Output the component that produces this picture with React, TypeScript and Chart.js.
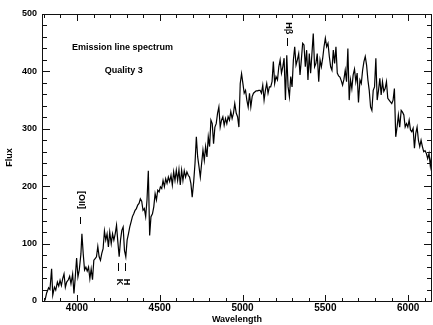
import React, { useEffect, useRef } from "react";
import { Chart, registerables } from "chart.js";
Chart.register(...registerables);

const wavelengths = [
  3807, 3817, 3829, 3837, 3847, 3854, 3864, 3872, 3882, 3890, 3898, 3906, 3914, 3922, 3930, 3938,
  3948, 3956, 3964, 3974, 3982, 3990, 3998, 4006, 4014, 4024, 4030, 4038, 4046, 4054, 4062, 4070,
  4078, 4086, 4094, 4102, 4110, 4118, 4126, 4134, 4142, 4150,
  4158, 4166, 4174, 4182, 4190, 4198, 4207, 4215, 4223, 4231,
  4239, 4247, 4255, 4263, 4271, 4279, 4287, 4295, 4303, 4311,
  4319, 4327, 4335, 4343, 4351, 4359, 4367, 4375, 4383, 4391,
  4399, 4407, 4415, 4423, 4431, 4439, 4447, 4456, 4464, 4472,
  4480, 4488, 4496, 4504, 4512, 4520, 4528, 4536, 4544, 4552,
  4560, 4568, 4576, 4584, 4592, 4600, 4608, 4616, 4624, 4632,
  4640, 4648, 4656, 4664, 4672, 4680, 4688, 4696, 4705, 4713,
  4721, 4729, 4737, 4745, 4753, 4761, 4769, 4777, 4785, 4793,
  4801, 4809, 4817, 4825, 4833, 4841, 4849, 4857, 4865, 4873,
  4881, 4889, 4897, 4905, 4913, 4921, 4929, 4937, 4945, 4953,
  4962, 4970, 4978, 4986, 4994, 5002, 5010, 5018, 5026, 5034,
  5042, 5050, 5058, 5066, 5074, 5082, 5090, 5098, 5106, 5114,
  5122, 5130, 5138, 5146, 5154, 5162, 5170, 5178, 5186, 5194,
  5202, 5211, 5219, 5227, 5235, 5243, 5251, 5259, 5267, 5275,
  5283, 5291, 5299, 5307, 5315, 5323, 5331, 5339, 5347, 5355,
  5363, 5371, 5379, 5387, 5395, 5403, 5411, 5419, 5427, 5435,
  5443, 5451, 5460, 5468, 5476, 5484, 5492, 5500, 5508, 5516,
  5524, 5532, 5540, 5548, 5556, 5564, 5572, 5580, 5588, 5596,
  5604, 5612, 5620, 5628, 5636, 5644, 5652, 5660, 5668, 5676,
  5684, 5692, 5700, 5709, 5717, 5725, 5733, 5741, 5749, 5757,
  5765, 5773, 5781, 5789, 5797, 5805, 5813, 5821, 5829, 5837,
  5845, 5853, 5861, 5869, 5877, 5885, 5893, 5901, 5909, 5917,
  5925, 5933, 5941, 5949, 5958, 5966, 5974, 5982, 5990, 5998,
  6006, 6014, 6022, 6030, 6038, 6046, 6054, 6062, 6070, 6078,
  6086, 6094, 6102, 6110, 6118, 6126, 6134, 6142,
];

const flux = [
  1, 14, 23, 20, 56, 10, 24, 19, 33, 26, 36, 27, 39, 47, 24, 33,
  37, 43, 30, 47, 13, 42, 75, 42, 54, 82, 117, 82, 54, 59, 52, 59,
  39, 56, 37, 71, 74, 77, 95, 77, 71, 83,
  91, 122, 106, 117, 94, 120, 100, 117, 106, 117,
  132, 103, 77, 106, 123, 129, 88, 77, 106, 117,
  129, 138, 147, 152, 158, 161, 167, 170, 178, 174,
  158, 161, 147, 176, 227, 114, 147, 152, 164, 187,
  176, 193, 190, 199, 196, 210, 199, 213, 205, 216,
  208, 219, 202, 225, 210, 228, 210, 229, 202, 228,
  210, 227, 216, 225, 219, 216, 205, 181, 208, 240,
  286, 251, 234, 216, 240, 263, 245, 269, 251, 286,
  269, 315, 309, 274, 303, 309, 327, 338, 303, 315,
  321, 306, 318, 309, 321, 315, 330, 318, 327, 344,
  327, 321, 303, 379, 396, 379, 362, 367, 350, 338,
  362, 338, 356, 362, 364, 366, 366, 367, 367, 362,
  376, 350, 367, 379, 362, 373, 373, 382, 417, 379,
  391, 385, 408, 420, 397, 408, 423, 350, 428, 373,
  356, 391, 373, 420, 443, 411, 420, 431, 394, 420,
  449, 446, 408, 437, 385, 431, 397, 431, 466, 408,
  414, 431, 382, 420, 408, 423, 443, 458, 443, 449,
  426, 408, 402, 437, 414, 443, 397, 392, 390, 384,
  376, 386, 402, 382, 440, 350, 385, 370, 394, 404,
  382, 397, 346, 385, 379, 402, 417, 426, 411, 385,
  367, 338, 332, 367, 373, 423, 350, 367, 388, 359,
  382, 365, 370, 382, 353, 350, 347, 344, 350, 370,
  286, 303, 324, 303, 332, 329, 324, 303, 309, 303,
  315, 298, 295, 301, 266, 292, 303, 280, 269, 280,
  269, 260, 262, 257, 248, 257, 235, 254,
];

const xTickValues = [4000, 4500, 5000, 5500, 6000];
const yTickValues = [0, 100, 200, 300, 400, 500];
const yMinorTicks = [20, 40, 60, 80, 120, 140, 160, 180, 220, 240, 260, 280, 320, 340, 360, 380, 420, 440, 460, 480];

const lineLabels = ["[OII]", "K", "H", "H\u03B2"];
const lineWaves = [4020, 4250, 4293, 5266];
const lineMarkLow = [134, 52, 52, 444];
const lineMarkHigh = [146, 67, 67, 458];
const lineLabelFlux = [176, 33, 33, 475];

const noteTexts = ["Emission line spectrum", "Quality 3"];
const noteWaves = [3970, 4168];
const noteFlux = [441, 401];

const FAMILY = "'Liberation Sans', Arial, sans-serif";
const FONT = "bold 9px " + FAMILY;

const framePlugin = {
  id: "framePlugin",
  afterDraw(chart: any) {
    const ctx = chart.ctx as CanvasRenderingContext2D;
    const xs = chart.scales.x;
    const ys = chart.scales.y;
    const L = Math.round(chart.chartArea.left);
    const R = Math.round(chart.chartArea.right);
    const T = Math.round(chart.chartArea.top);
    const B = Math.round(chart.chartArea.bottom);
    ctx.save();
    ctx.fillStyle = "#111";
    ctx.fillRect(L, T, R - L, 1);
    ctx.fillRect(L, B, R - L, 1);
    ctx.fillRect(L, T, 1, B - T + 1);
    ctx.fillRect(R - 1, T, 1, B - T + 1);
    for (let v = Math.ceil(xs.min / 100) * 100; v <= xs.max; v += 100) {
      const px = Math.round(xs.getPixelForValue(v));
      const len = v % 500 === 0 ? 6 : 3;
      ctx.fillRect(px, B - len, 1, len);
      ctx.fillRect(px, T + 1, 1, len);
    }
    yTickValues.forEach((v) => {
      const py = Math.round(ys.getPixelForValue(v));
      ctx.fillRect(L + 1, py, 7, 1);
      ctx.fillRect(R - 8, py, 7, 1);
    });
    yMinorTicks.forEach((v) => {
      const py = Math.round(ys.getPixelForValue(v));
      ctx.fillRect(L + 1, py, 4, 1);
      ctx.fillRect(R - 5, py, 4, 1);
    });
    ctx.restore();
  },
};

const notesPlugin = {
  id: "notesPlugin",
  afterDraw(chart: any) {
    const ctx = chart.ctx as CanvasRenderingContext2D;
    const xs = chart.scales.x;
    const ys = chart.scales.y;
    const a = chart.chartArea;
    ctx.save();
    ctx.fillStyle = "#000";
    ctx.font = FONT;
    for (let i = 0; i < lineLabels.length; i++) {
      const px = Math.round(xs.getPixelForValue(lineWaves[i]));
      const y1 = Math.round(ys.getPixelForValue(lineMarkHigh[i]));
      const y2 = Math.round(ys.getPixelForValue(lineMarkLow[i]));
      ctx.fillRect(px, y1, 1, y2 - y1);
      ctx.save();
      ctx.translate(px + 1, ys.getPixelForValue(lineLabelFlux[i]));
      ctx.rotate(Math.PI / 2);
      ctx.textAlign = "center";
      ctx.textBaseline = "middle";
      ctx.fillText(lineLabels[i], 0, 0);
      ctx.restore();
    }
    ctx.textAlign = "left";
    ctx.textBaseline = "middle";
    for (let i = 0; i < noteTexts.length; i++) {
      ctx.fillText(noteTexts[i], xs.getPixelForValue(noteWaves[i]), ys.getPixelForValue(noteFlux[i]));
    }
    ctx.textAlign = "center";
    ctx.fillText("Wavelength", (a.left + a.right) / 2, 320);
    ctx.save();
    ctx.translate(10, (a.top + a.bottom) / 2);
    ctx.rotate(-Math.PI / 2);
    ctx.fillText("Flux", 0, 0);
    ctx.restore();
    ctx.restore();
  },
};

export default function App() {
  const ref = useRef<HTMLCanvasElement | null>(null);
  useEffect(() => {
    if (!ref.current) return;
    const points = wavelengths.map((w, i) => ({ x: w, y: flux[i] }));
    const chart = new Chart(ref.current, {
      type: "line",
      data: {
        datasets: [
          { data: points, borderColor: "#000", borderWidth: 1.2, pointRadius: 0 },
        ],
      },
      options: {
        animation: false,
        responsive: false,
        events: [],
        layout: { padding: { top: 14, right: 1, left: 0, bottom: 0 } },
        plugins: { legend: { display: false }, tooltip: { enabled: false } },
        scales: {
          x: {
            type: "linear",
            min: 3789,
            max: 6144,
            grid: { display: false, drawTicks: false, tickLength: 0 },
            border: { display: false },
            afterBuildTicks: (s: any) => {
              s.ticks = xTickValues.map((v) => ({ value: v }));
            },
            afterFit: (s: any) => {
              s.height = 24;
            },
            ticks: {
              color: "#000",
              font: { family: FAMILY, size: 10, weight: "bold" },
              padding: 1,
              maxRotation: 0,
              autoSkip: false,
              callback: (v: any) => String(v),
            },
          },
          y: {
            type: "linear",
            min: 0,
            max: 500,
            grid: { display: false, drawTicks: false, tickLength: 0 },
            border: { display: false },
            afterBuildTicks: (s: any) => {
              s.ticks = yTickValues.map((v) => ({ value: v }));
            },
            afterFit: (s: any) => {
              s.width = 42;
            },
            ticks: {
              color: "#000",
              font: { family: FAMILY, size: 9, weight: "bold" },
              padding: 5,
              autoSkip: false,
              callback: (v: any) => String(v),
            },
          },
        },
      } as any,
      plugins: [framePlugin, notesPlugin],
    });
    return () => chart.destroy();
  }, []);
  return (
    <div style={{ position: "absolute", left: 0, top: 0, width: 433, height: 325, background: "#fff" }}>
      <canvas ref={ref} width={433} height={325} />
    </div>
  );
}
